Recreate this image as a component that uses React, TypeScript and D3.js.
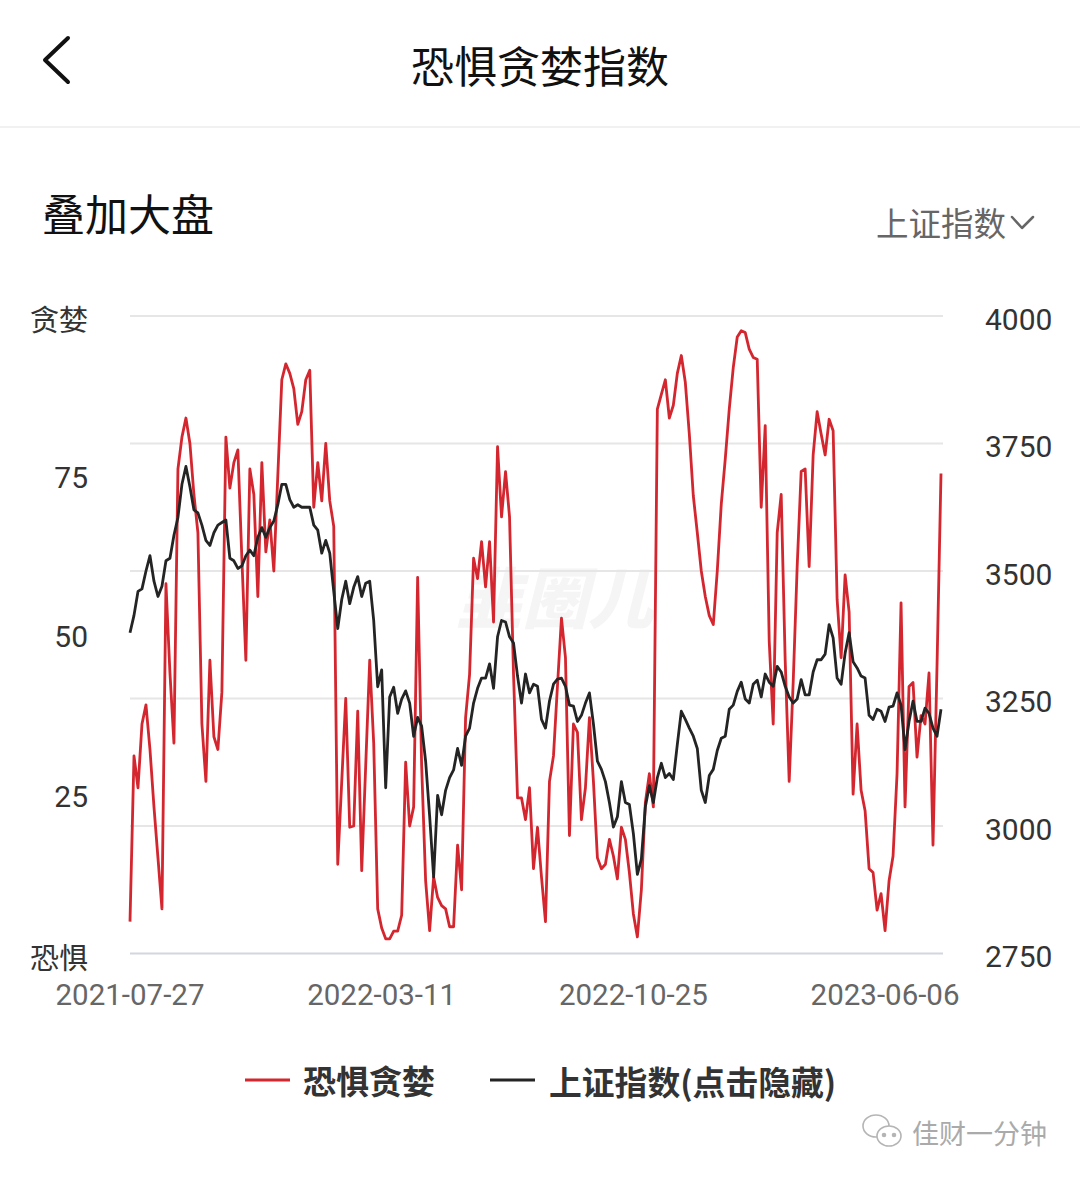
import * as d3 from "d3";

// 恐惧贪婪指数 (0-100), one sample roughly every 2-3 trading days
const fearGreed = [
  5, 31, 26, 36, 39, 32, 23, 15, 7, 58,
  44, 33, 76, 81, 84, 80, 72, 66, 36, 27,
  46, 34, 32, 41, 81, 73, 77, 79, 62, 46,
  76, 72, 56, 77, 63, 68, 60, 75, 90, 92.5,
  91, 88.6, 83, 85, 90, 91.5, 70, 77, 71, 80,
  71, 67,
  14, 27, 40, 19.8, 20, 38, 13, 29.5, 46, 33,
  7, 4, 2.3, 2.3, 3.5, 3.5, 6, 30, 20, 23,
  59, 29.5, 11.4, 3.6, 12, 8.8, 7.5, 7, 4.2, 4.2,
  17, 10, 37, 43.8, 62, 58.8, 64.6, 57.5, 64.6, 52,
  79.5, 68.5, 75.6, 68.5, 43.8, 24.4, 24.4, 21, 26, 13.3,
  19.8,
  12, 5, 27, 31, 42, 52.6, 46.4, 18.5, 36, 34.7,
  21, 26, 37, 27, 15, 13.3, 14, 17.9, 15.3, 11.7,
  19.8, 17.9, 12.7, 6.2, 2.6, 10, 23.7, 28.2, 23, 85.4,
  87.7, 90, 84, 86, 91, 93.8, 89.6, 81.5, 71.8, 66,
  60, 56, 53, 51.6, 60, 70.5, 77.6, 85.4, 91.9, 96.7,
  97.7,
  97.4, 94.8, 93.5, 93.2, 70, 82.8, 49, 36, 66, 72,
  46, 27, 42.5, 60.7, 75.6, 76, 60.7, 78.2, 85, 81.5,
  78.2, 83.8, 82, 55.5, 46.4, 59.4, 53.6, 25, 36, 25.6,
  22.4, 13.3, 12.7, 6.8, 9.4, 3.6, 11.4, 15.3, 28.2, 55,
  23, 41.9, 42.5, 30.8, 37.3, 36, 44, 17, 45, 75.3,
];

// 上证指数, same sampling
const shIndex = [
  3379, 3413, 3460, 3465, 3500, 3530, 3480, 3450, 3470, 3520,
  3525, 3570, 3605, 3670, 3705, 3665, 3620, 3614, 3590, 3560,
  3550, 3575, 3590, 3595, 3600, 3525, 3520, 3505, 3510, 3530,
  3541, 3530, 3566, 3585, 3566, 3585, 3598, 3630, 3670, 3670,
  3640, 3625, 3630, 3625, 3625, 3625, 3590, 3580, 3535, 3560,
  3535, 3460,
  3387, 3444, 3480, 3436, 3468, 3489, 3450, 3476, 3480, 3403,
  3273, 3306, 3075, 3253, 3272, 3221, 3249, 3265, 3241, 3176,
  3213, 3196, 3127, 3020, 2900, 3060, 3022, 3070, 3095, 3110,
  3152, 3119, 3176, 3192, 3241, 3270, 3290, 3290, 3318, 3270,
  3371, 3403, 3400, 3371, 3359, 3294, 3241, 3298, 3261, 3278,
  3274,
  3209, 3192, 3245, 3278, 3288, 3290, 3274, 3237, 3235, 3205,
  3217, 3241, 3261, 3200, 3127, 3111, 3087, 3046, 2998, 3018,
  3087, 3046, 3042, 2985, 2905, 2935, 3038, 3079, 3046, 3095,
  3123, 3095, 3103, 3091, 3160, 3225, 3209, 3192, 3176, 3152,
  3070, 3046, 3099, 3111, 3148, 3172, 3176, 3229, 3237, 3264,
  3282,
  3249, 3241, 3278, 3286, 3253, 3298, 3282, 3274, 3313, 3302,
  3274, 3253, 3241, 3249, 3287, 3257, 3257, 3302, 3326, 3326,
  3337, 3395, 3369, 3290, 3278, 3339, 3379, 3322, 3310, 3294,
  3290, 3217, 3209, 3229, 3225, 3205, 3233, 3235, 3261, 3237,
  3150, 3205, 3245, 3205, 3205, 3231, 3221, 3192, 3176, 3229,
];

const dateTicks = [
  { index: 0, label: "2021-07-27" },
  { index: 63, label: "2022-03-11" },
  { index: 126, label: "2022-10-25" },
  { index: 189, label: "2023-06-06" },
];
const leftTicks = [
  { value: 100, label: "贪婪" },
  { value: 75, label: "75" },
  { value: 50, label: "50" },
  { value: 25, label: "25" },
  { value: 0, label: "恐惧" },
];
const rightTicks = [4000, 3750, 3500, 3250, 3000, 2750];

const CJK = "'Noto Sans CJK SC', 'Noto Sans', sans-serif";
const NUM = "Roboto, 'Noto Sans CJK SC', sans-serif";
const RED = "#d4262f";
const DARK = "#242424";

export default function App() {
  const W = 1080;
  const H = 1181;
  const left = 130;
  const right = 941;
  const top = 316;
  const bottom = 953.5;

  const x = d3.scaleLinear().domain([0, fearGreed.length - 1]).range([left, right]);
  const yFG = d3.scaleLinear().domain([0, 100]).range([bottom, top]);
  const yIdx = d3.scaleLinear().domain([2750, 4000]).range([bottom, top]);

  const fgLine = d3.line<number>().x((_, i) => x(i)).y((d) => yFG(d));
  const idxLine = d3.line<number>().x((_, i) => x(i)).y((d) => yIdx(d));

  return (
    <svg
      width={W}
      height={H}
      viewBox={`0 0 ${W} ${H}`}
      style={{ position: "absolute", left: 0, top: 0, background: "#fff", display: "block" }}
    >
      <rect width={W} height={H} fill="#fff" />

      {/* header */}
      <path d="M68,38 L45,60 L68,82" fill="none" stroke="#111" strokeWidth={4} strokeLinecap="round" strokeLinejoin="round" />
      <text x={540} y={64} textAnchor="middle" dominantBaseline="central" fontFamily={CJK} fontSize={43} fill="#111">
        恐惧贪婪指数
      </text>
      <line x1={0} x2={W} y1={127} y2={127} stroke="#f1f1f1" strokeWidth={2} />

      <text x={42} y={212} dominantBaseline="central" fontFamily={CJK} fontSize={43} fill="#111">
        叠加大盘
      </text>
      <text x={876} y={221} dominantBaseline="central" fontFamily={CJK} fontSize={32.5} fill="#666">
        上证指数
      </text>
      <path d="M1012,217 L1022,228 L1033,217" fill="none" stroke="#666" strokeWidth={2.5} strokeLinecap="round" strokeLinejoin="round" />

      {/* faint watermark */}
      <text x={555} y={594} textAnchor="middle" dominantBaseline="central" fontFamily={CJK} fontSize={66} fontWeight={900} fontStyle="italic" fill="#f5f5f5">
        韭圈儿
      </text>

      {/* grid */}
      {rightTicks.map((v) => (
        <line
          key={v}
          x1={left}
          x2={943}
          y1={yIdx(v)}
          y2={yIdx(v)}
          stroke={v === 2750 ? "#d3d6e2" : "#e6e6e6"}
          strokeWidth={2}
        />
      ))}

      {/* left axis */}
      {leftTicks.map((t) => (
        <text
          key={t.label}
          x={88}
          y={yFG(t.value) + 2}
          textAnchor="end"
          dominantBaseline="central"
          fontFamily={t.value % 100 === 0 ? CJK : NUM}
          fontSize={t.value % 100 === 0 ? 29 : 30}
          fill="#333"
        >
          {t.label}
        </text>
      ))}

      {/* right axis */}
      {rightTicks.map((v) => (
        <text key={v} x={985} y={yIdx(v) + 3} dominantBaseline="central" fontFamily={NUM} fontSize={30} fill="#333">
          {v}
        </text>
      ))}

      {/* x axis */}
      {dateTicks.map((t) => (
        <text key={t.label} x={x(t.index)} y={995} textAnchor="middle" dominantBaseline="central" fontFamily={NUM} fontSize={29.5} fill="#666">
          {t.label}
        </text>
      ))}

      {/* series */}
      <path d={fgLine(fearGreed) ?? ""} fill="none" stroke={RED} strokeWidth={2.8} strokeLinejoin="round" />
      <path d={idxLine(shIndex) ?? ""} fill="none" stroke={DARK} strokeWidth={2.8} strokeLinejoin="round" />

      {/* legend */}
      <line x1={245} x2={290} y1={1080} y2={1080} stroke={RED} strokeWidth={3} />
      <text x={303} y={1080} dominantBaseline="central" fontFamily={CJK} fontSize={33} fontWeight={700} fill="#333">
        恐惧贪婪
      </text>
      <line x1={490} x2={535} y1={1080} y2={1080} stroke={DARK} strokeWidth={3} />
      <text x={549} y={1080} dominantBaseline="central" fontFamily={CJK} fontSize={32.8} fontWeight={700} fill="#333">
        上证指数(点击隐藏)
      </text>

      {/* account watermark */}
      <g fill="none" stroke="#b5b5b5" strokeWidth={1.6}>
        <ellipse cx={876} cy={1126} rx={13} ry={11} />
        <ellipse cx={889} cy={1136} rx={12} ry={10} fill="#fff" />
        <circle cx={884} cy={1135} r={1.5} fill="#b5b5b5" />
        <circle cx={894} cy={1135} r={1.5} fill="#b5b5b5" />
      </g>
      <text x={912} y={1132} dominantBaseline="central" fontFamily={CJK} fontSize={27} fill="#aaa">
        佳财一分钟
      </text>
    </svg>
  );
}
